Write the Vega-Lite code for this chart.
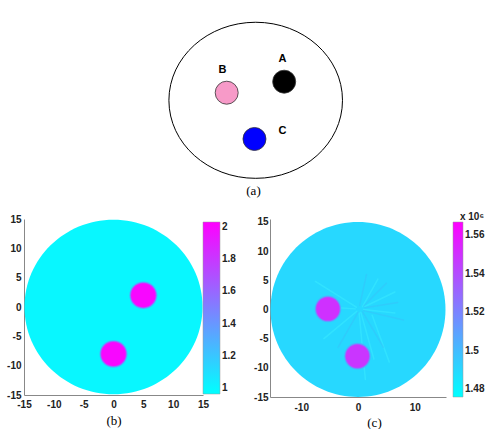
{
  "$schema": "https://vega.github.io/schema/vega-lite/v6.json",
  "background": "white",
  "padding": {"left": 6, "top": 0, "right": 0, "bottom": 0},
  "bounds": "flush",
  "spacing": 39,
  "config": {
    "view": {"stroke": null},
    "axis": {
      "labelFont": "Liberation Sans", "labelFontSize": 10, "labelFontWeight": "bold", "labelColor": "#222",
      "domainColor": "#888", "grid": false, "ticks": false, "labelFlush": false, "labelOverlap": false,
      "labelExpr": "'' + datum.value",
      "titleFont": "Liberation Serif", "titleFontSize": 13, "titleFontWeight": "normal", "titleColor": "#000", "zindex": 1
    },
    "legend": {
      "labelFont": "Liberation Sans", "labelFontSize": 10, "labelFontWeight": "bold", "labelColor": "#222",
      "titleFont": "Liberation Sans", "titleFontSize": 10, "titleFontWeight": "bold", "titleColor": "#222"
    }
  },
  "datasets": {
    "a_outline": [{"x": 0, "y": 0}],
    "a_inclusions": [
      {"name": "A", "x": 4.91, "y": 3.58},
      {"name": "B", "x": -5.0, "y": 1.46},
      {"name": "C", "x": -0.21, "y": -7.44}
    ],
    "a_labels": [
      {"label": "A", "x": 4.6, "y": 7.87},
      {"label": "B", "x": -5.72, "y": 5.83},
      {"label": "C", "x": 4.6, "y": -5.94}
    ],
    "b_disk": [{"x": 0, "y": 0, "radius": 14.92, "value": 1.0}],
    "b_inclusions": [
      {"x": 5, "y": 2, "radius": 2.35, "value": 1.3},
      {"x": 5, "y": 2, "radius": 2.2, "value": 1.65},
      {"x": 5, "y": 2, "radius": 2.05, "value": 2.0},
      {"x": 0, "y": -8, "radius": 2.35, "value": 1.3},
      {"x": 0, "y": -8, "radius": 2.2, "value": 1.65},
      {"x": 0, "y": -8, "radius": 2.05, "value": 2.0}
    ],
    "c_disk": [{"x": 0, "y": 0, "radius": 15.41, "value": 1.49}],
    "c_streaks": [
      {"x": 0.8, "y": 0.5, "x2": 3.5, "y2": 5.2, "kind": "light"},
      {"x": 1.0, "y": 0.6, "x2": 5.0, "y2": 4.5, "kind": "dark"},
      {"x": 1.2, "y": 0.5, "x2": 6.5, "y2": 3.0, "kind": "light"},
      {"x": 1.2, "y": 0.3, "x2": 7.0, "y2": 1.2, "kind": "dark"},
      {"x": 1.0, "y": 0.0, "x2": 6.5, "y2": -0.6, "kind": "light"},
      {"x": 1.0, "y": -0.2, "x2": 8.0, "y2": -1.8, "kind": "dark"},
      {"x": 0.5, "y": -0.5, "x2": 2.8, "y2": -8.5, "kind": "light"},
      {"x": 0.8, "y": -0.4, "x2": 4.5, "y2": -6.5, "kind": "dark"},
      {"x": 0.2, "y": -0.6, "x2": 1.3, "y2": -12.0, "kind": "light"},
      {"x": 0.0, "y": -0.5, "x2": -3.5, "y2": -6.5, "kind": "dark"},
      {"x": -0.2, "y": -0.3, "x2": -6.0, "y2": -5.0, "kind": "light"},
      {"x": -0.3, "y": 0.4, "x2": -7.5, "y2": 4.8, "kind": "light"},
      {"x": -0.5, "y": 0.1, "x2": -3.5, "y2": 0.3, "kind": "light"},
      {"x": 0.3, "y": 0.7, "x2": 1.5, "y2": 6.0, "kind": "dark"},
      {"x": 2.5, "y": -1.0, "x2": 5.5, "y2": -9.0, "kind": "light"}
    ],
    "c_inclusions": [
      {"x": -5.3, "y": 0.1, "radius": 2.35, "value": 1.505},
      {"x": -5.3, "y": 0.1, "radius": 2.2, "value": 1.525},
      {"x": -5.3, "y": 0.1, "radius": 2.05, "value": 1.55},
      {"x": -0.1, "y": -8.0, "radius": 2.35, "value": 1.505},
      {"x": -0.1, "y": -8.0, "radius": 2.2, "value": 1.525},
      {"x": -0.1, "y": -8.0, "radius": 2.05, "value": 1.548}
    ]
  },
  "resolve": {
    "scale": {"color": "independent", "size": "independent"},
    "legend": {"color": "independent", "size": "independent"}
  },
  "vconcat": [
    {
      "width": 458,
      "height": 180,
      "encoding": {
        "x": {"field": "x", "type": "quantitative", "scale": {"domain": [-39.95, 39.02], "nice": false, "zero": false},
              "axis": {"title": "(a)", "labels": false, "domain": false, "ticks": false, "titlePadding": 4}},
        "y": {"field": "y", "type": "quantitative", "scale": {"domain": [-15.33, 19.29], "nice": false, "zero": false}, "axis": null}
      },
      "layer": [
        {
          "data": {"name": "a_outline"},
          "mark": {"type": "point", "filled": false, "shape": "M-1,0A1,0.899,0,1,1,1,0A1,0.899,0,1,1,-1,0Z", "size": 30137, "stroke": "#000000", "strokeWidth": 1, "opacity": 1}
        },
        {
          "data": {"name": "a_inclusions"},
          "mark": {"type": "point", "filled": true, "shape": "circle", "size": 529, "stroke": "#333333", "strokeWidth": 0.8, "opacity": 1},
          "encoding": {
            "color": {"field": "name", "type": "nominal", "scale": {"domain": ["A", "B", "C"], "range": ["#000000", "#f79ac8", "#0000ff"]}, "legend": null}
          }
        },
        {
          "data": {"name": "a_labels"},
          "mark": {"type": "text", "font": "Liberation Sans", "fontSize": 11, "fontWeight": "bold", "color": "#000000"},
          "encoding": {"text": {"field": "label"}}
        }
      ]
    },
    {
      "hconcat": [
        {
          "width": 179,
          "height": 176,
          "encoding": {
            "x": {"field": "x", "type": "quantitative", "scale": {"domain": [-15, 15], "nice": false, "zero": false},
                  "axis": {"values": [-15, -10, -5, 0, 5, 10, 15], "title": "(b)", "labelPadding": 4, "titlePadding": 5}},
            "y": {"field": "y", "type": "quantitative", "scale": {"domain": [-15, 15], "nice": false, "zero": false},
                  "axis": {"values": [-15, -10, -5, 0, 5, 10, 15], "title": null, "labelPadding": 3}}
          },
          "layer": [
            {
              "data": {"values": [{}]},
              "mark": {"type": "rect", "fill": "#f7f7f7"},
              "encoding": {"x": {"datum": -18.6}, "x2": {"datum": 20.95}, "y": {"datum": 15.7}, "y2": {"datum": -17.2}}
            },
            {
              "data": {"name": "b_disk"},
              "mark": {"type": "point", "filled": true, "shape": "M-1,0A1,0.98,0,1,1,1,0A1,0.98,0,1,1,-1,0Z", "opacity": 1, "strokeWidth": 0},
              "encoding": {
                "size": {"field": "radius", "type": "quantitative", "scale": {"type": "pow", "exponent": 2, "domain": [0, 15], "range": [0, 32046]}, "legend": null},
                "color": {"field": "value", "type": "quantitative",
                          "scale": {"domain": [0.965, 2.03], "range": ["#00ffff", "#ff00ff"], "interpolate": "rgb"},
                          "legend": {"type": "gradient", "orient": "none", "legendX": 179, "legendY": 3, "direction": "vertical", "gradientLength": 172, "gradientThickness": 17,
                                     "title": null, "values": [1, 1.2, 1.4, 1.6, 1.8, 2], "format": "~g", "labelOffset": 2,
                                     "gradientStrokeColor": "#999", "gradientStrokeWidth": 0.5}}
              }
            },
            {
              "data": {"name": "b_inclusions"},
              "mark": {"type": "point", "filled": true, "shape": "M-1,0A1,0.98,0,1,1,1,0A1,0.98,0,1,1,-1,0Z", "opacity": 1, "strokeWidth": 0},
              "encoding": {
                "size": {"field": "radius", "type": "quantitative", "scale": {"type": "pow", "exponent": 2, "domain": [0, 15], "range": [0, 32046]}, "legend": null},
                "color": {"field": "value", "type": "quantitative",
                          "scale": {"domain": [0.965, 2.03], "range": ["#00ffff", "#ff00ff"], "interpolate": "rgb"}}
              }
            }
          ]
        },
        {
          "width": 176,
          "height": 178,
          "encoding": {
            "x": {"field": "x", "type": "quantitative", "scale": {"domain": [-15.5, 15.5], "nice": false, "zero": false},
                  "axis": {"values": [-10, 0, 10], "title": "(c)", "labelPadding": 5, "titlePadding": 4, "titleX": 104}},
            "y": {"field": "y", "type": "quantitative", "scale": {"domain": [-15, 15.5], "nice": false, "zero": false},
                  "axis": {"values": [-15, -10, -5, 0, 5, 10, 15], "title": null, "labelPadding": 2}}
          },
          "layer": [
            {
              "data": {"values": [{}]},
              "mark": {"type": "rect", "fill": "#f7f7f7"},
              "encoding": {"x": {"datum": -19.4}, "x2": {"datum": 24.3}, "y": {"datum": 18.8}, "y2": {"datum": -17.2}}
            },
            {
              "data": {"name": "c_disk"},
              "mark": {"type": "point", "filled": true, "shape": "M-1,0A1,1,0,1,1,1,0A1,1,0,1,1,-1,0Z", "opacity": 1, "strokeWidth": 0},
              "encoding": {
                "size": {"field": "radius", "type": "quantitative", "scale": {"type": "pow", "exponent": 2, "domain": [0, 15.5], "range": [0, 30973]}, "legend": null},
                "color": {"field": "value", "type": "quantitative",
                          "scale": {"domain": [1.476, 1.567], "range": ["#00ffff", "#ff00ff"], "interpolate": "rgb"},
                          "legend": {"type": "gradient", "orient": "none", "legendX": 183, "legendY": -7, "direction": "vertical", "gradientLength": 175, "gradientThickness": 10,
                                     "title": "x 10⁶", "titleAnchor": "end", "titlePadding": 0, "values": [1.48, 1.5, 1.52, 1.54, 1.56], "format": "~g", "labelOffset": 2,
                                     "gradientStrokeColor": "#999", "gradientStrokeWidth": 0.5}}
              }
            },
            {
              "data": {"name": "c_streaks"},
              "transform": [{"filter": "datum.kind === 'light'"}],
              "mark": {"type": "rule", "strokeWidth": 1.5, "opacity": 0.45, "strokeCap": "round", "stroke": "#3ff0ff"},
              "encoding": {"x2": {"field": "x2"}, "y2": {"field": "y2"}}
            },
            {
              "data": {"name": "c_streaks"},
              "transform": [{"filter": "datum.kind === 'dark'"}],
              "mark": {"type": "rule", "strokeWidth": 1.5, "opacity": 0.35, "strokeCap": "round", "stroke": "#40b8f6"},
              "encoding": {"x2": {"field": "x2"}, "y2": {"field": "y2"}}
            },
            {
              "data": {"name": "c_inclusions"},
              "mark": {"type": "point", "filled": true, "shape": "M-1,0A1,1,0,1,1,1,0A1,1,0,1,1,-1,0Z", "opacity": 1, "strokeWidth": 0},
              "encoding": {
                "size": {"field": "radius", "type": "quantitative", "scale": {"type": "pow", "exponent": 2, "domain": [0, 15.5], "range": [0, 30973]}, "legend": null},
                "color": {"field": "value", "type": "quantitative",
                          "scale": {"domain": [1.476, 1.567], "range": ["#00ffff", "#ff00ff"], "interpolate": "rgb"}}
              }
            }
          ]
        }
      ],
      "spacing": 67,
      "bounds": "flush",
      "resolve": {
        "scale": {"color": "independent", "size": "independent"},
        "legend": {"color": "independent", "size": "independent"}
      }
    }
  ]
}
